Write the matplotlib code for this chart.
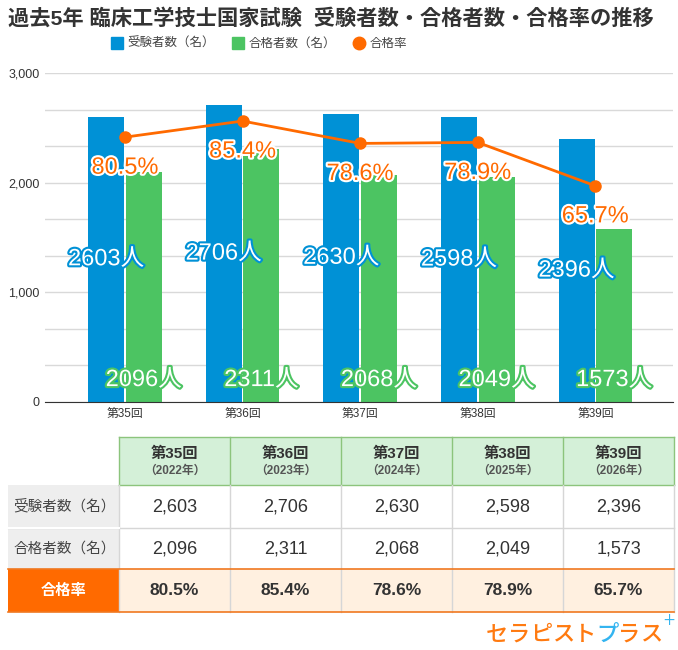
import matplotlib
matplotlib.use('Agg')
import matplotlib.pyplot as plt
import matplotlib.patheffects as pe
from matplotlib.lines import Line2D
from matplotlib.patches import Rectangle

plt.rcParams['font.family'] = ['Liberation Sans', 'Noto Sans CJK JP', 'DejaVu Sans']

# データ
kai = ['第35回', '第36回', '第37回', '第38回', '第39回']
years = ['（2022年）', '（2023年）', '（2024年）', '（2025年）', '（2026年）']
examinees = [2603, 2706, 2630, 2598, 2396]
passers = [2096, 2311, 2068, 2049, 1573]
rates = [80.5, 85.4, 78.6, 78.9, 65.7]

BLUE = '#0091d6'
GREEN = '#4cc462'
ORANGE = '#ff6a00'

W, H = 678, 650
fig = plt.figure(figsize=(W / 100, H / 100), dpi=100)


def px_axes(x0, y0, x1, y1):
    # ピクセル座標(左上原点)から axes を作る
    return fig.add_axes([x0 / W, 1 - y1 / H, (x1 - x0) / W, (y1 - y0) / H])


fig.text(8 / W, 1 - 18 / H, '過去5年 臨床工学技士国家試験  受験者数・合格者数・合格率の推移',
         fontsize=15.3, fontweight='bold', color='#333333', va='center', ha='left')

# グラフ部分
ax = px_axes(45, 73, 673, 402)
x = list(range(len(kai)))
bw = 0.306
xb = [i - 0.16 for i in x]
xg = [i + 0.16 for i in x]
ax.bar(xb, examinees, width=bw, color=BLUE, zorder=2)
ax.bar(xg, passers, width=bw, color=GREEN, zorder=2)
ax.set_xlim(-0.68, 4.66)
ax.set_ylim(0, 3000)
ax.set_yticks([0, 1000, 2000, 3000])
ax.set_yticklabels(['0', '1,000', '2,000', '3,000'], fontsize=9, color='#333333')
ax.set_yticks([i * 3000 / 9 for i in range(10)], minor=True)
ax.grid(axis='y', which='both', color='#d9d9d9', linewidth=1, zorder=0)
ax.set_xticks(x)
ax.set_xticklabels(kai, fontsize=8.5, color='#333333')
ax.tick_params(length=0, pad=4)
ax.tick_params(axis='y', which='minor', length=0)
for s in ['top', 'right', 'left']:
    ax.spines[s].set_visible(False)
ax.spines['bottom'].set_color('#333333')
ax.set_axisbelow(True)

for xi, v in zip(xb, examinees):
    ax.text(xi, v / 2, f'{v}人', ha='center', va='center', fontsize=17, color='white', zorder=5,
            path_effects=[pe.withStroke(linewidth=3, foreground=BLUE)])
for xi, v in zip(xg, passers):
    ax.text(xi, 200, f'{v}人', ha='center', va='center', fontsize=17, color='white', zorder=5,
            path_effects=[pe.withStroke(linewidth=3, foreground=GREEN)])

ax2 = ax.twinx()
ax2.set_ylim(0, 100)
ax2.axis('off')
ax2.plot(x, rates, color=ORANGE, lw=2, marker='o', markersize=8, zorder=4)
for xi, r in zip(x, rates):
    ax2.annotate(f'{r}%', (xi, r), xytext=(0, -22), textcoords='offset points',
                 ha='center', va='center', fontsize=17, color=ORANGE, zorder=6,
                 path_effects=[pe.withStroke(linewidth=3, foreground='white')])

handles = [Line2D([], [], marker='s', ls='none', color=BLUE, markersize=8),
           Line2D([], [], marker='s', ls='none', color=GREEN, markersize=8),
           Line2D([], [], marker='o', ls='none', color=ORANGE, markersize=9)]
fig.legend(handles, ['受験者数（名）', '合格者数（名）', '合格率'], loc='center',
           bbox_to_anchor=(259 / W, 1 - 44 / H), ncol=3, frameon=False, fontsize=9,
           labelcolor='#444444', handlelength=0.9, handletextpad=0.4, columnspacing=1.4)

# 表部分
tb = px_axes(0, 0, W, H)
tb.set_xlim(0, W)
tb.set_ylim(H, 0)
tb.axis('off')
tb.set_zorder(-1)

col_x = [8, 119, 230, 341, 452, 563, 674]
row_y = [437, 485, 528, 569, 612]
row_names = ['受験者数（名）', '合格者数（名）']


def cell(x0, y0, x1, y1, fc):
    tb.add_patch(Rectangle((x0, y0), x1 - x0, y1 - y0, facecolor=fc, edgecolor='none'))


for j in range(5):
    x0, x1 = col_x[j + 1], col_x[j + 2]
    cx = (x0 + x1) / 2
    cell(x0, row_y[0], x1, row_y[1], '#d4f0d8')
    tb.text(cx, 454, kai[j], ha='center', va='center', fontsize=11, fontweight='bold', color='#333333')
    tb.text(cx, 471, years[j], ha='center', va='center', fontsize=8.5, fontweight='bold', color='#555555')
    for k, vals in enumerate([examinees, passers]):
        yc = (row_y[k + 1] + row_y[k + 2]) / 2
        tb.text(cx, yc, f'{vals[j]:,}', ha='center', va='center', fontsize=13, color='#333333')
    cell(x0, row_y[3], x1, row_y[4], '#fff0e0')
    tb.text(cx, (row_y[3] + row_y[4]) / 2, f'{rates[j]}%', ha='center', va='center',
            fontsize=12.5, fontweight='bold', color='#333333')

for k in range(2):
    cell(col_x[0], row_y[k + 1], col_x[1], row_y[k + 2], '#eeeeee')
    tb.text(13, (row_y[k + 1] + row_y[k + 2]) / 2, row_names[k], ha='left', va='center',
            fontsize=10.5, color='#444444')
cell(col_x[0], row_y[3], col_x[1], row_y[4], ORANGE)
tb.text((col_x[0] + col_x[1]) / 2, (row_y[3] + row_y[4]) / 2, '合格率', ha='center', va='center',
        fontsize=11, fontweight='bold', color='white')

# 罫線
tb.plot([col_x[1], col_x[6]], [row_y[0], row_y[0]], color='#8cc47c', lw=1)
tb.plot([col_x[1], col_x[6]], [row_y[1], row_y[1]], color='#8cc47c', lw=1)
for xv in col_x[1:]:
    tb.plot([xv, xv], [row_y[0], row_y[1]], color='#8cc47c', lw=1)
    tb.plot([xv, xv], [row_y[1], row_y[4]], color='#d6d6d6', lw=1)
tb.plot([col_x[0], col_x[6]], [row_y[2], row_y[2]], color='#d6d6d6', lw=1)
tb.plot([col_x[0], col_x[1]], [row_y[2], row_y[2]], color='white', lw=1.5)
tb.plot([col_x[0], col_x[6]], [row_y[3], row_y[3]], color='#f07820', lw=1.2)
tb.plot([col_x[0], col_x[6]], [row_y[4], row_y[4]], color='#f07820', lw=1.2)

# ロゴ
logo = 'セラピストプラス'
logo_colors = ['#ff7a10'] * 5 + ['#33b4f0'] + ['#ff7a10'] * 2
for i, (ch, c) in enumerate(zip(logo, logo_colors)):
    tb.text(486 + 22 * i, 634, ch, ha='left', va='center', fontsize=16, color=c,
            family='Noto Sans CJK JP', fontweight='medium')
tb.text(669, 622, '+', ha='center', va='center', fontsize=15, color='#33b4f0',
        family='Noto Sans CJK JP', fontweight='light')

fig.savefig('out.png', dpi=100)
